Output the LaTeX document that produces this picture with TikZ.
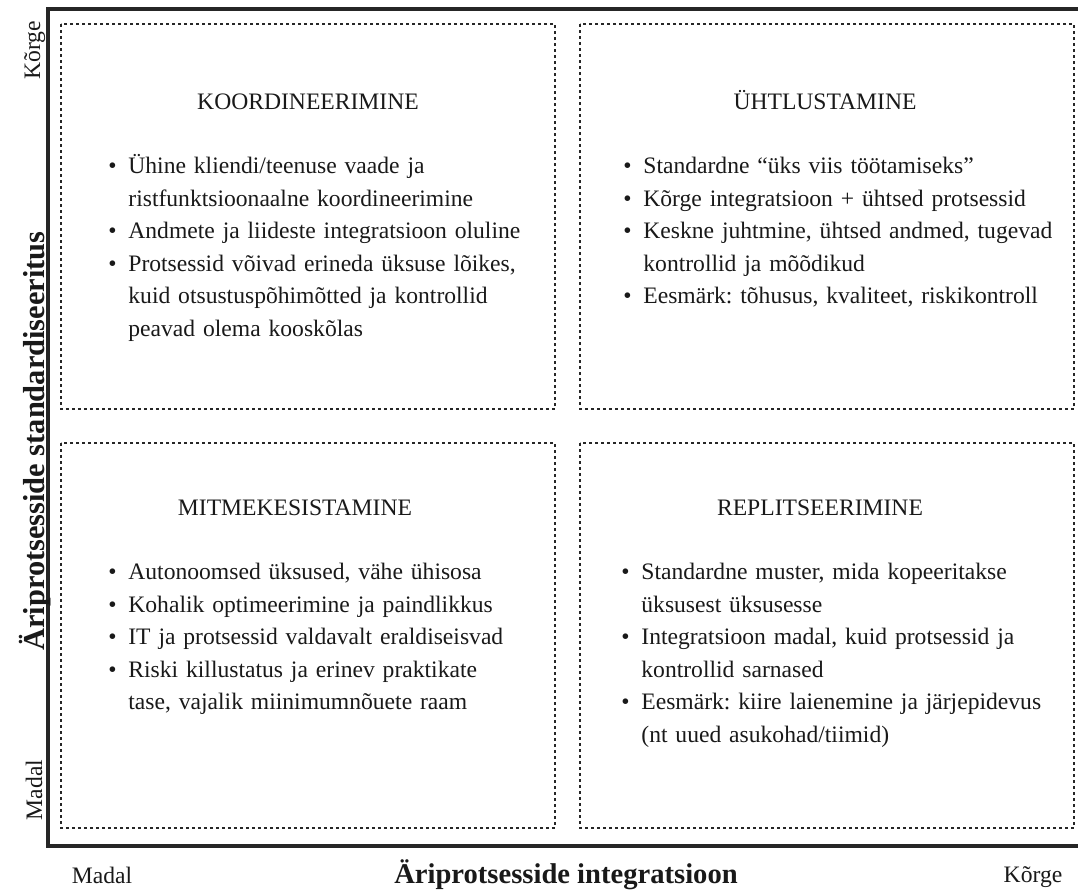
\documentclass[tikz,border=0pt]{standalone}
\usepackage{fontspec}
\setmainfont{Liberation Serif}
\usetikzlibrary{positioning}

\newcommand{\pointitem}[1]{\par\noindent\hangindent=10pt\hangafter=1\makebox[10pt][l]{\textbullet}\strut#1\par}

\begin{document}
\frenchspacing
\begin{tikzpicture}[x=0.5pt, y=-0.5pt,
    every node/.style={font=\fontsize{11.8}{16.25}\selectfont, text=black!90},
    quadbox/.style={dash pattern=on 1.3pt off 1.7pt, line width=1.3pt, black!85},
    quadtitle/.style={anchor=base},
    quadlist/.style={anchor=north west, inner sep=0pt, text width=215pt, align=left},
    axislabel/.style={font=\fontsize{14.3}{16}\selectfont\bfseries}]
    \useasboundingbox (0,0) rectangle (1078,890);

    \draw[line width=1.8pt, black!85] (1078,9) -- (48,9) -- (48,846) -- (1078,846);

    \draw[quadbox] (61,24) rectangle (555,409);
    \draw[quadbox] (580,24) rectangle (1074,409);
    \draw[quadbox] (61,443) rectangle (555,828);
    \draw[quadbox] (580,443) rectangle (1074,828);

    \node[quadtitle] (koord) at (308,109) {KOORDINEERIMINE};
    \node[quadtitle] (yhtl) at (825,109) {ÜHTLUSTAMINE};
    \node[quadtitle] (mitme) at (295,515) {MITMEKESISTAMINE};
    \node[quadtitle] (repl) at (820,515) {REPLITSEERIMINE};

    \node[quadlist] (koordlist) at (108,141) {%
        \pointitem{Ühine kliendi/teenuse vaade ja\newline ristfunktsioonaalne koordineerimine}
        \pointitem{Andmete ja liideste integratsioon oluline}
        \pointitem{Protsessid võivad erineda üksuse lõikes,\newline kuid otsustuspõhimõtted ja kontrollid\newline peavad olema kooskõlas}};
    \node[quadlist] (yhtllist) at (623,141) {%
        \pointitem{Standardne “üks viis töötamiseks”}
        \pointitem{Kõrge integratsioon + ühtsed protsessid}
        \pointitem{Keskne juhtmine, ühtsed andmed, tugevad\newline kontrollid ja mõõdikud}
        \pointitem{Eesmärk: tõhusus, kvaliteet, riskikontroll}};
    \node[quadlist] (mitmelist) at (108,547) {%
        \pointitem{Autonoomsed üksused, vähe ühisosa}
        \pointitem{Kohalik optimeerimine ja paindlikkus}
        \pointitem{IT ja protsessid valdavalt eraldiseisvad}
        \pointitem{Riski killustatus ja erinev praktikate\newline tase, vajalik miinimumnõuete raam}};
    \node[quadlist] (repllist) at (621,547) {%
        \pointitem{Standardne muster, mida kopeeritakse\newline üksusest üksusesse}
        \pointitem{Integratsioon madal, kuid protsessid ja\newline kontrollid sarnased}
        \pointitem{Eesmärk: kiire laienemine ja järjepidevus\newline (nt uued asukohad/tiimid)}};

    \node[rotate=90, anchor=base] (korgey) at (40,50) {Kõrge};
    \node[rotate=90, anchor=base] (madaly) at (42,790) {Madal};
    \node[rotate=90, anchor=base, axislabel, font=\fontsize{15.2}{17}\selectfont\bfseries] (standard) at (45,441) {Äriprotsesside standardiseeritus};
    \node[anchor=base] (madalx) at (102,883) {Madal};
    \node[anchor=base] (korgex) at (1033,882) {Kõrge};
    \node[anchor=base, axislabel] (integr) at (566,883) {Äriprotsesside integratsioon};
\end{tikzpicture}
\end{document}
